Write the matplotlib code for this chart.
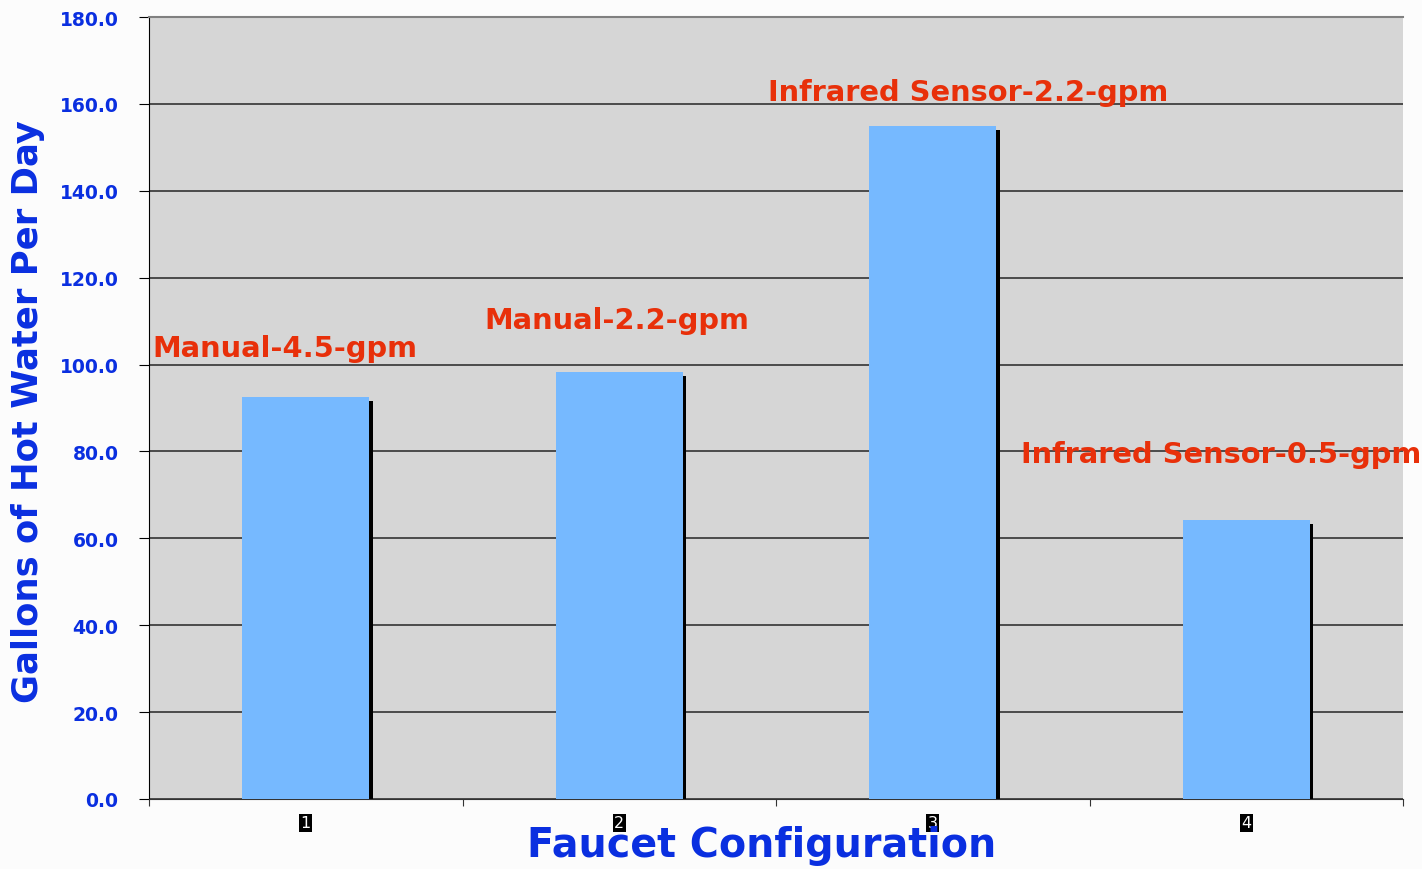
import matplotlib.pyplot as plt
import numpy as np

categories = ['1', '2', '3', '4']
gallons = [92.5, 98.3, 154.9, 64.2]
labels = ['Manual-4.5-gpm', 'Manual-2.2-gpm',
          'Infrared Sensor-2.2-gpm', 'Infrared Sensor-0.5-gpm']
label_x = [-0.49, 0.57, 1.475, 2.28]
label_y = [103.8, 110.3, 162.7, 79.4]
yticks = np.arange(0, 181, 20)

blue = '#0a2fe0'
red = '#e8300a'

fig = plt.figure(figsize=(14.22, 8.70), dpi=100, facecolor='#fcfcfc')
ax = fig.add_axes([149 / 1422, 70 / 870, 1254 / 1422, 782 / 870])
ax.set_facecolor('#d6d6d6')

x = np.arange(len(categories))
w = 0.405
# shadow strip behind each bar
ax.bar(x + 0.012, np.array(gallons) - 1.0, width=w, color='black', zorder=2)
ax.bar(x, gallons, width=w, color='#76b9ff', zorder=3)

ax.set_xlim(-0.5, 3.5)
ax.set_ylim(0, 180)
ax.set_yticks(yticks)
ax.set_yticklabels(['%.1f' % v for v in yticks], color=blue,
                   fontweight='bold', fontsize=13.5)
ax.yaxis.grid(True, color='#333333', linewidth=1.2, zorder=1)
ax.set_axisbelow(True)

ax.set_xticks(np.arange(-0.5, 3.6, 1.0))
ax.set_xticklabels([])
ax.tick_params(axis='x', length=5, color='#333333')
ax.tick_params(axis='y', length=7, color='black', pad=15)
for xi, c in zip(x, categories):
    ax.text(xi, -5.5, c, ha='center', va='center', color='white', fontsize=11.5,
            bbox=dict(boxstyle='square,pad=0.1', fc='black', ec='none'),
            clip_on=False)

ax.spines['right'].set_visible(False)
ax.spines['top'].set_color('#808080')
ax.spines['top'].set_linewidth(1.5)
ax.spines['left'].set_color('black')
ax.spines['bottom'].set_color('#333333')

for lx, ly, t in zip(label_x, label_y, labels):
    ax.text(lx, ly, t, color=red, fontweight='bold', fontsize=20.8,
            ha='left', va='center', clip_on=False)

fig.text(762 / 1422, 1 - 846 / 870, 'Faucet Configuration', color=blue,
         fontweight='bold', fontsize=28.5, ha='center', va='center')
fig.text(28 / 1422, 1 - 412 / 870, 'Gallons of Hot Water Per Day', color=blue,
         fontweight='bold', fontsize=25.5, ha='center', va='center',
         rotation=90)

fig.savefig('out.png', dpi=100, facecolor=fig.get_facecolor())
